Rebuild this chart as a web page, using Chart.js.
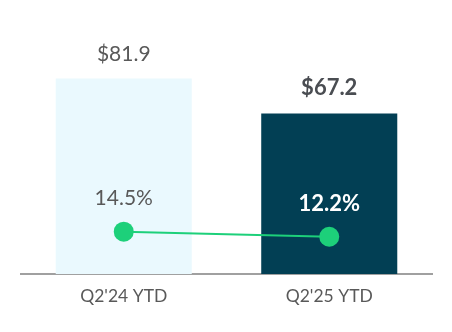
<!DOCTYPE html>
<html>
<head>
<meta charset="utf-8">
<script src="https://cdn.jsdelivr.net/npm/chart.js@4/dist/chart.umd.min.js"></script>
<style>
  html, body { margin: 0; padding: 0; background: #ffffff; }
  canvas { display: block; }
</style>
</head>
<body>
<canvas id="revenueChart" width="452" height="332"></canvas>
<script>
'use strict';

var categories = ["Q2'24 YTD", "Q2'25 YTD"];
var revenue = [81.9, 67.2];
var margin = [14.5, 12.2];

var colors = {
    barLight   : "#EAF9FE",
    barDark    : "#023F54",
    line       : "#1DD07A",
    text       : "#595959",
    boldText   : "#4A4D52",
    axis       : "#A0A0A0"
};

var fontFamily = "Lato, 'Open Sans', sans-serif";

// value labels drawn above bars and points
var valueLabels = {
    id: 'valueLabels',
    afterDatasetsDraw: function(chart) {
        var ctx = chart.ctx;
        var bars = chart.getDatasetMeta(0).data;
        var points = chart.getDatasetMeta(1).data;
        ctx.save();
        ctx.textAlign = 'center';
        ctx.textBaseline = 'middle';

        bars.forEach(function(bar, i) {
            var bold = i === 1;
            ctx.font = (bold ? 'bold 22px ' : '21px ') + fontFamily;
            ctx.fillStyle = bold ? colors.boldText : colors.text;
            ctx.fillText('$' + revenue[i].toFixed(1), bar.x, bar.y - (bold ? 26 : 24));
        });

        points.forEach(function(pt, i) {
            var bold = i === 1;
            ctx.font = (bold ? 'bold 22px ' : '21px ') + fontFamily;
            ctx.fillStyle = bold ? '#ffffff' : colors.text;
            ctx.fillText(margin[i].toFixed(1) + '%', pt.x, pt.y - 33);
        });
        ctx.restore();
    }
};

new Chart(document.getElementById('revenueChart'), {
    type: 'bar',
    data: {
        labels: categories,
        datasets: [{
            type: 'bar',
            data: revenue,
            backgroundColor: [colors.barLight, colors.barDark],
            borderWidth: 0,
            categoryPercentage: 1,
            barPercentage: 0.662,
            yAxisID: 'y',
            order: 2
        }, {
            type: 'line',
            data: margin,
            borderColor: colors.line,
            borderWidth: 2,
            pointRadius: 10,
            pointHoverRadius: 10,
            pointBackgroundColor: colors.line,
            pointBorderWidth: 0,
            tension: 0,
            yAxisID: 'y2',
            order: 1
        }]
    },
    options: {
        responsive: false,
        animation: false,
        layout: {
            padding: { top: 10, left: 21, right: 20, bottom: 21 }
        },
        plugins: {
            legend: { display: false },
            tooltip: { enabled: false }
        },
        scales: {
            x: {
                grid: { display: false },
                border: { display: true, color: colors.axis, width: 2 },
                ticks: {
                    color: colors.text,
                    padding: 4,
                    font: { size: 17.5, family: fontFamily }
                }
            },
            y: {
                display: false,
                min: 0,
                max: 110.6
            },
            y2: {
                display: false,
                min: -4.82,
                max: 115.7
            }
        }
    },
    plugins: [valueLabels]
});
</script>
</body>
</html>
